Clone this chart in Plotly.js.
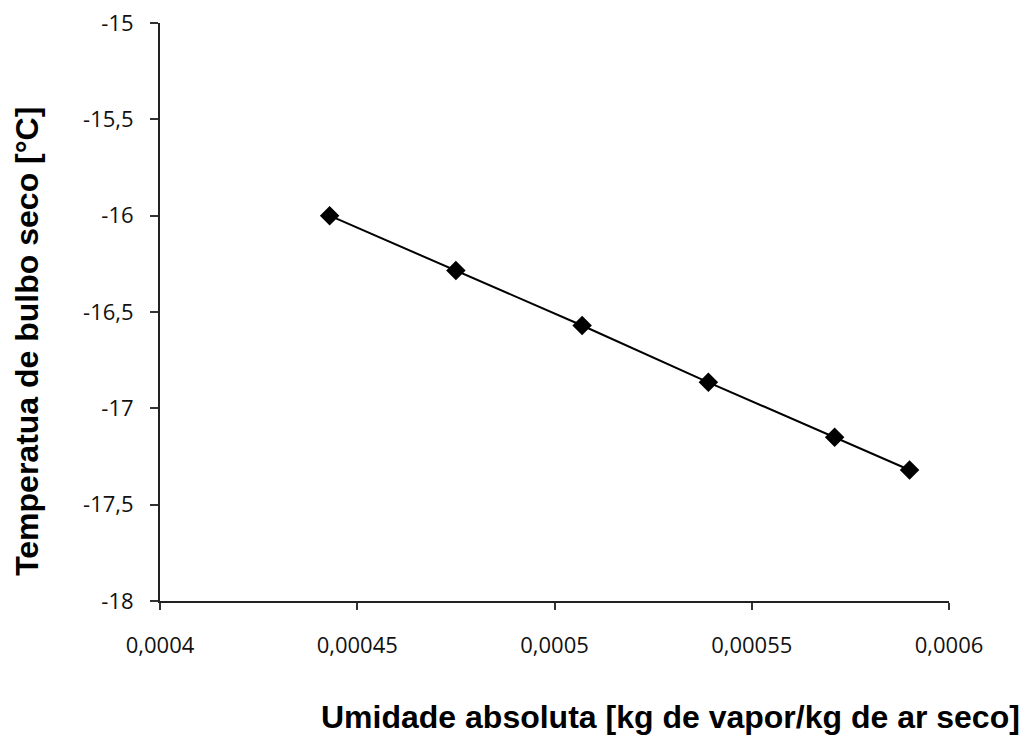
<!DOCTYPE html>
<html>
<head>
<meta charset="utf-8">
<script src="https://cdn.plot.ly/plotly-3.0.1.min.js"></script>
<style>html,body{margin:0;padding:0;background:#fff;}#chart{width:1028px;height:735px;}</style>
</head>
<body>
<div id="chart"></div>
<script>
const umidade = [0.000443, 0.000475, 0.000507, 0.000539, 0.000571, 0.00059];
const temperatura = [-16.0, -16.285, -16.57, -16.865, -17.15, -17.32];
const xTicks = [0.0004, 0.00045, 0.0005, 0.00055, 0.0006];
const xTickText = ["0,0004", "0,00045", "0,0005", "0,00055", "0,0006"];
const yTicks = [-18, -17.5, -17, -16.5, -16, -15.5, -15];
const yTickText = ["-18", "-17,5", "-17", "-16,5", "-16", "-15,5", "-15"];
const xTitle = "Umidade absoluta [kg de vapor/kg de ar seco]";
const yTitle = "Temperatua de bulbo seco [°C]";

const trace = {
  x: umidade, y: temperatura, type: 'scatter', mode: 'lines+markers',
  line: {color: '#000', width: 2},
  marker: {symbol: 'diamond', size: 15, color: '#000'},
  showlegend: false
};
const tickFont = {family: '"Open Sans", sans-serif', size: 22, color: '#111'};
const titleFont = {family: '"Liberation Sans", Arial, sans-serif', size: 32, color: '#000', weight: 'bold'};
const layout = {
  width: 1028, height: 735,
  margin: {l: 160, r: 79, t: 23, b: 134},
  paper_bgcolor: '#fff', plot_bgcolor: '#fff',
  xaxis: {
    range: [0.0004, 0.0006], tickvals: xTicks, ticktext: xTickText,
    showgrid: false, zeroline: false, showline: true, linecolor: '#222', linewidth: 2,
    ticks: 'outside', ticklen: 7, tickwidth: 2, tickcolor: '#333',
    tickfont: tickFont, ticklabelstandoff: 17
  },
  yaxis: {
    range: [-18, -15], tickvals: yTicks, ticktext: yTickText,
    showgrid: false, zeroline: false, showline: true, linecolor: '#222', linewidth: 2,
    ticks: 'outside', ticklen: 8, tickwidth: 2, tickcolor: '#333',
    tickfont: tickFont, ticklabelstandoff: 12
  },
  annotations: [
    {text: xTitle, xref: 'paper', yref: 'paper', x: 1.0925, y: -0.2007,
     xanchor: 'right', yanchor: 'middle', showarrow: false, font: titleFont},
    {text: yTitle, xref: 'paper', yref: 'paper', x: -0.1686, y: 0.45,
     xanchor: 'center', yanchor: 'middle', textangle: -90, showarrow: false, font: titleFont}
  ]
};
Plotly.newPlot('chart', [trace], layout, {displayModeBar: false, staticPlot: true});
</script>
</body>
</html>
